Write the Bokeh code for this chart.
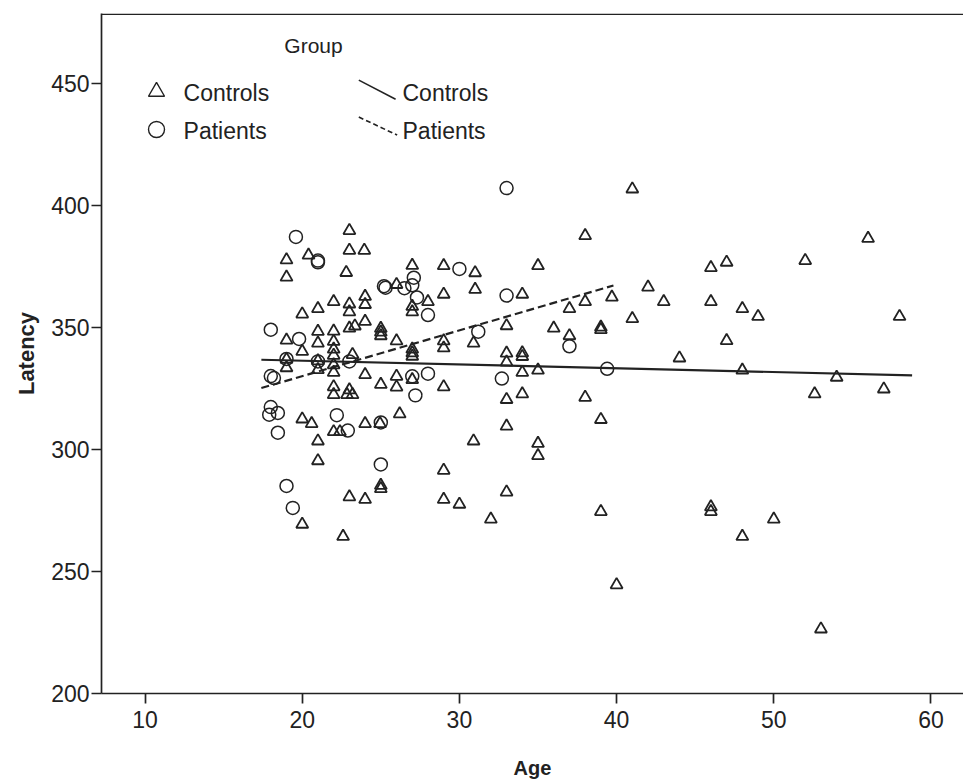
from bokeh.plotting import figure
from bokeh.models import Range1d, Span, FixedTicker
from bokeh.core.properties import value
from bokeh.embed import file_html
from bokeh.resources import INLINE

# ---- data ----
controls_age = [
    19, 19, 19, 19, 19,
    20, 20, 20, 20, 20.4, 20.6,
    21, 21, 21, 21, 21, 21, 21,
    22, 22, 22, 22, 22, 22, 22, 22, 22, 22,
    22.4, 22.6, 22.8,
    23, 23, 23, 23, 23, 23, 22.85, 23.2, 23.2, 23, 23.35,
    23.95, 24, 24, 24, 24, 24, 24,
    25, 25, 25, 25, 24.95, 25, 25,
    26, 26, 26, 26, 26.2,
    27, 27, 27, 27, 27, 27, 27,
    28,
    29, 29, 29, 29, 29, 29, 29,
    30, 30.9, 30.9, 31, 31, 32,
    33, 33, 33, 33, 33, 33,
    34, 34, 34, 34, 34,
    35, 35, 35, 35,
    36, 37, 37,
    38, 38, 38,
    39, 39, 39, 39, 39.7,
    40, 41, 41, 42, 43, 44,
    46, 46, 46, 46,
    47, 47,
    48, 48, 48,
    49, 50, 52, 52.6, 53, 54, 56, 57, 58,
]
controls_latency = [
    377.6, 370.5, 344.7, 336.8, 333.4,
    355.4, 340.1, 312.4, 269.3, 379.5, 310.5,
    357.6, 348.3, 343.5, 336.2, 332.6, 303.4, 295.3,
    360.5, 348.4, 344.2, 341.0, 338.5, 334.6, 331.5, 325.6, 322.4, 307.2,
    307.2, 264.3, 372.4,
    389.6, 381.5, 359.5, 356.3, 349.6, 324.3, 322.4, 322.4, 338.8, 280.5, 350.5,
    381.5, 362.6, 359.3, 352.4, 330.6, 310.5, 279.5,
    349.5, 348.0, 346.5, 326.6, 310.5, 285.2, 283.9,
    367.5, 344.4, 329.9, 325.5, 314.5,
    375.3, 358.5, 356.3, 341.0, 339.5, 338.1, 328.5,
    360.5,
    375.2, 363.5, 344.4, 341.5, 325.6, 291.4, 279.5,
    277.5, 343.5, 303.4, 372.3, 365.5, 271.4,
    350.6, 339.4, 335.7, 320.4, 309.5, 282.5,
    363.5, 339.5, 338.0, 331.5, 322.7,
    375.2, 332.4, 302.4, 297.4,
    349.6, 357.6, 346.5,
    387.5, 360.5, 321.3,
    350.0, 349.0, 312.2, 274.5, 362.3,
    244.5, 406.6, 353.5, 366.4, 360.5, 337.4,
    374.4, 360.5, 276.4, 274.5,
    376.6, 344.5,
    357.6, 332.4, 264.3,
    354.4, 271.4, 377.3, 322.7, 226.4, 329.5, 386.4, 324.7, 354.4,
]

patients_age = [
    19.6, 21.0, 21.0,
    18.0, 19.8, 19.0, 21.0, 23.0,
    18.0, 18.2,
    18.0, 17.9, 18.45, 18.45,
    19.0, 19.4,
    22.2, 22.9,
    25.0, 25.0,
    25.2, 25.3, 26.5,
    27.1, 27.0, 27.3,
    28.0, 27.0, 28.0, 27.2,
    30.0, 31.2, 32.7,
    33.0, 33.0, 37.0, 39.4,
]
patients_latency = [
    387.0, 377.3, 376.6,
    349.0, 345.2, 337.0, 336.0, 336.0,
    330.0, 329.2,
    317.3, 314.2, 314.9, 306.8,
    285.0, 276.0,
    314.0, 307.7,
    311.0, 293.8,
    366.8, 366.2, 366.0,
    370.3, 367.2, 362.2,
    355.0, 329.9, 331.0, 322.1,
    373.9, 348.2, 329.0,
    407.0, 363.0, 342.2, 333.0,
]

# fit lines (end points)
fit_controls_age = [17.4, 58.8]
fit_controls_latency = [336.7, 330.3]
fit_patients_age = [17.4, 39.8]
fit_patients_latency = [325.1, 367.1]

x_ticks = [10, 20, 30, 40, 50, 60]
y_ticks = [200, 250, 300, 350, 400, 450]

group_labels = ["Controls", "Patients"]
legend_title = "Group"

INK = "#222222"
FONT = "Liberation Sans"

p = figure(
    width=963, height=782,
    output_backend="svg", toolbar_location=None,
    x_range=Range1d(7.23, 62.07), y_range=Range1d(200, 478.5),
    min_border_left=101, min_border_right=0,
    min_border_top=13, min_border_bottom=89,
)
p.grid.visible = False
p.outline_line_color = None
p.background_fill_color = "white"
p.border_fill_color = "white"

for ax in (p.xaxis[0], p.yaxis[0]):
    ax.axis_line_color = INK
    ax.axis_line_width = 1.7
    ax.major_tick_line_color = INK
    ax.major_tick_line_width = 1.7
    ax.major_tick_in = 0
    ax.major_tick_out = 10
    ax.minor_tick_line_color = None
    ax.major_label_text_font = FONT
    ax.major_label_text_font_size = "23px"
    ax.major_label_text_color = INK
    ax.axis_label_text_font = FONT
    ax.axis_label_text_font_style = "bold"
    ax.axis_label_text_color = INK

p.xaxis.ticker = FixedTicker(ticks=x_ticks)
p.yaxis.ticker = FixedTicker(ticks=y_ticks)
p.xaxis.axis_label = "Age"
p.yaxis.axis_label = "Latency"
p.xaxis.axis_label_text_font_size = "20px"
p.yaxis.axis_label_text_font_size = "22px"
p.xaxis.major_label_standoff = 7
p.yaxis.major_label_standoff = 2
p.xaxis.axis_label_standoff = 26
p.yaxis.axis_label_standoff = 9

# top frame line
p.add_layout(Span(location=478.2, dimension="width", line_color=INK, line_width=1.7))

# data
p.scatter(controls_age, controls_latency, marker="triangle", size=12,
          fill_color=None, line_color=INK, line_width=1.8)
p.scatter(patients_age, patients_latency, marker="circle", size=13,
          fill_color=None, line_color=INK, line_width=1.5)

p.line(fit_controls_age, fit_controls_latency, line_color=INK, line_width=2.2)
p.line(fit_patients_age, fit_patients_latency, line_color=INK, line_width=2.2,
       line_dash="8 4")

# legend (drawn by hand, SPSS style)
p.text(x=[20.72], y=[465.2], text=[legend_title], text_font=value(FONT),
       text_font_size="21px", text_align="center", text_baseline="middle",
       text_color=INK)
p.scatter([10.73], [446.5], marker="triangle", size=16, fill_color=None,
          line_color=INK, line_width=1.4)
p.scatter([10.73], [431.0], marker="circle", size=16, fill_color=None,
          line_color=INK, line_width=1.4)
p.text(x=[12.45, 12.45], y=[445.9, 430.3], text=group_labels,
       text_font=value(FONT), text_font_size="23px", text_align="left",
       text_baseline="middle", text_color=INK)
p.line([23.6, 25.94], [451.2, 443.4], line_color=INK, line_width=1.6)
p.line([23.6, 26.04], [436.1, 428.7], line_color=INK, line_width=1.6,
       line_dash="5 3")
p.text(x=[26.38, 26.38], y=[445.9, 430.3], text=group_labels,
       text_font=value(FONT), text_font_size="23px", text_align="left",
       text_baseline="middle", text_color=INK)

open("out.html", "w").write(file_html(p, INLINE))
